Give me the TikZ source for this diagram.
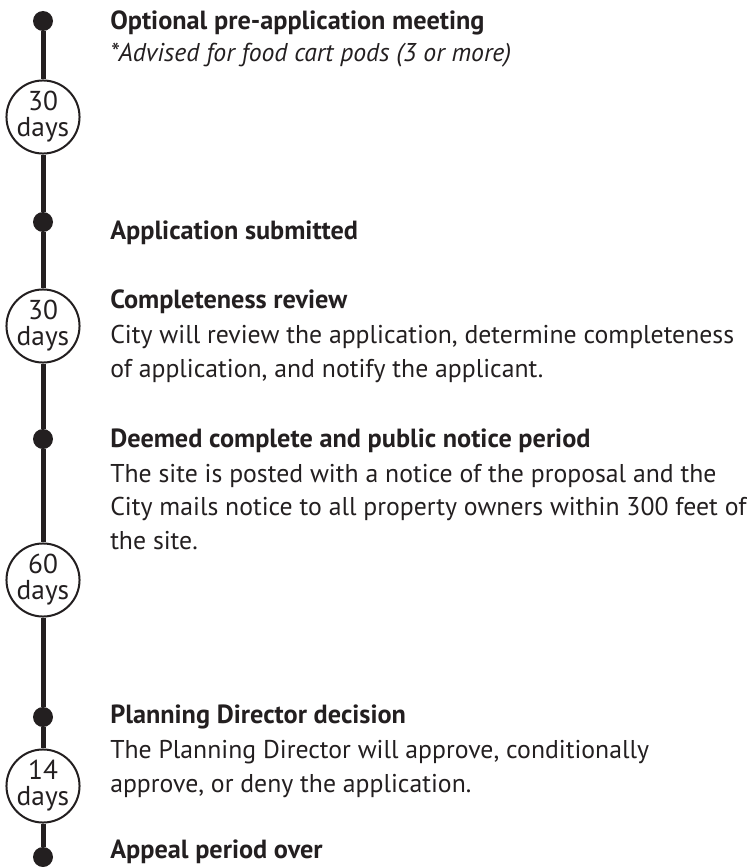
\documentclass[tikz,border=0pt]{standalone}
\usepackage{fontspec}
\setmainfont{PT Sans}
\definecolor{ink}{HTML}{231F20}
\begin{document}
\begin{tikzpicture}[x=0.75pt,y=0.75pt,yscale=-1,xscale=1,
  stopdot/.style={circle,fill=ink,inner sep=0pt,minimum size=15pt},
  daybubble/.style={circle,draw=ink,line width=1.5pt,fill=white,inner sep=0pt,minimum size=54pt,align=center,text=ink,font=\fontsize{20.5}{19.5}\selectfont},
  headtext/.style={anchor=base west,inner sep=0pt,text=ink,font=\fontsize{19.7}{22}\selectfont\bfseries},
  bodytext/.style={anchor=base west,inner sep=0pt,text=ink,font=\fontsize{19.3}{22}\selectfont},
  track/.style={draw=ink,line width=3.75pt}]
\useasboundingbox (0,0) rectangle (746,867);

%Stops on the time line
\node [stopdot] (stop1) at (43,21) {};
\node [stopdot] (stop2) at (43,222) {};
\node [stopdot] (stop3) at (43,439) {};
\node [stopdot] (stop4) at (43,717) {};
\node [stopdot] (stop5) at (43,857) {};

%Durations
\node [daybubble] (dur1) at (43,117) {30\\days};
\node [daybubble] (dur2) at (43,326) {30\\days};
\node [daybubble] (dur3) at (43,580) {60\\days};
\node [daybubble] (dur4) at (43,786) {14\\days};

%Time line
\draw [track] (stop1) -- (dur1);
\draw [track] (dur1) -- (stop2);
\draw [track] (stop2) -- (dur2);
\draw [track] (dur2) -- (stop3);
\draw [track] (stop3) -- (dur3);
\draw [track] (dur3) -- (stop4);
\draw [track] (stop4) -- (dur4);
\draw [track] (dur4) -- (stop5);

% Text Node
\draw (110,30) node [headtext] (head1) {Optional pre-application meeting};
% Text Node
\draw (110,62) node [bodytext,font=\fontsize{19.3}{22}\selectfont\itshape] (note1) {*Advised for food cart pods (3 or more)};
% Text Node
\draw (110,239) node [headtext] (head2) {Application submitted};
% Text Node
\draw (110,308) node [headtext] (head3) {Completeness review};
\draw (110,343) node [bodytext] (body3a) {City will review the application, determine completeness};
\draw (110,377) node [bodytext] (body3b) {of application, and notify the applicant.};
% Text Node
\draw (110,447) node [headtext] (head4) {Deemed complete and public notice period};
\draw (110,482) node [bodytext] (body4a) {The site is posted with a notice of the proposal and the};
\draw (110,515) node [bodytext] (body4b) {City mails notice to all property owners within 300 feet of};
\draw (110,549) node [bodytext] (body4c) {the site.};
% Text Node
\draw (110,723) node [headtext] (head5) {Planning Director decision};
\draw (110,758) node [bodytext] (body5a) {The Planning Director will approve, conditionally};
\draw (110,792) node [bodytext] (body5b) {approve, or deny the application.};
% Text Node
\draw (110,858) node [headtext] (head6) {Appeal period over};

\end{tikzpicture}
\end{document}
